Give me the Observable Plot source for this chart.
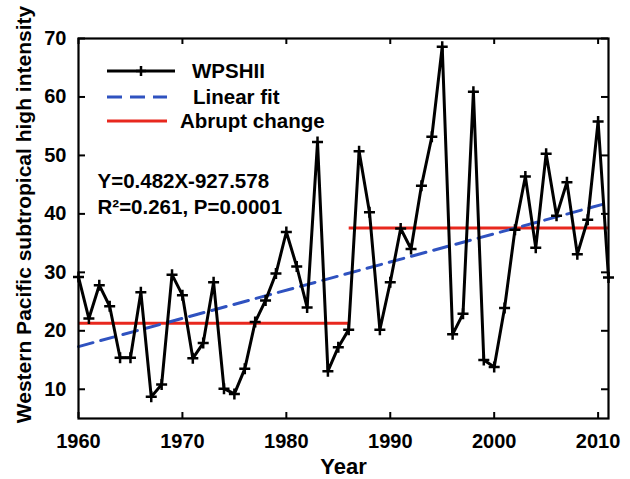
<!DOCTYPE html>
<html>
<head>
<meta charset="utf-8">
<script src="https://cdn.jsdelivr.net/npm/d3@7"></script>
<script src="https://cdn.jsdelivr.net/npm/@observablehq/plot@0.6"></script>
<style>
  html, body { margin: 0; padding: 0; background: #fff; }
</style>
</head>
<body>
<div id="chart"></div>
<script>
// ---- data ----
const years = [1960,1961,1962,1963,1964,1965,1966,1967,1968,1969,
               1970,1971,1972,1973,1974,1975,1976,1977,1978,1979,
               1980,1981,1982,1983,1984,1985,1986,1987,1988,1989,
               1990,1991,1992,1993,1994,1995,1996,1997,1998,1999,
               2000,2001,2002,2003,2004,2005,2006,2007,2008,2009,
               2010,2011];
const wpshii = [29.2,22.1,27.8,24.2,15.4,15.4,26.6,8.7,10.8,29.6,
                26.1,15.3,17.9,28.3,10.1,9.2,13.5,21.5,25.2,29.8,
                36.9,31.0,24.0,52.3,13.1,17.2,20.2,50.7,40.3,20.2,
                28.3,37.5,34.0,44.8,53.2,68.6,19.4,22.9,60.9,15.0,
                13.8,23.9,37.3,46.4,34.2,50.3,39.7,45.4,33.1,39.0,
                55.8,29.1];
const fitYears = [1960, 2011];
const fitValues = [17.3, 41.9];
const changeStarts = [1960, 1986];
const changeEnds = [1986, 2011];
const changeLevels = [21.3, 37.6];
const xTicks = [1960, 1970, 1980, 1990, 2000, 2010];
const yTicks = [10, 20, 30, 40, 50, 60, 70];
const legendLabels = ["WPSHII", "Linear fit", "Abrupt change"];
const equationLine1 = "Y=0.482X-927.578";
const equationLine2 = "R\u00B2=0.261, P=0.0001";
const xLabel = "Year";
const yLabel = "Western Pacific subtropical high intensity";

// ---- derived tables ----
const series = years.map((y, i) => ({year: y, value: wpshii[i]}));
const fit = fitYears.map((y, i) => ({year: y, value: fitValues[i]}));
const changes = changeStarts.map((s, i) => ({x1: s, x2: changeEnds[i], y: changeLevels[i]}));

const BLUE = "#2f52c0";
const RED = "#e8281e";
const FONT = "'Liberation Sans', Arial, Helvetica, sans-serif";

const plusSymbol = {
  draw(context, size) {
    const r = Math.sqrt(size / Math.PI);
    context.moveTo(-r, 0); context.lineTo(r, 0);
    context.moveTo(0, -r); context.lineTo(0, r);
  }
};

const W = 630, H = 479;
const mL = 78, mR = 22, mT = 38, mB = 61;
const innerW = W - mL - mR, innerH = H - mT - mB;

function legendMark(index, scales, values, dimensions) {
  const g = d3.create("svg:g")
    .attr("font-family", FONT).attr("font-weight", "bold").attr("font-size", 20.5)
    .attr("text-anchor", "start");
  const rows = [
    {y: 71, x1: 107, x2: 175, tx: 192, color: "black", dash: null, marker: true},
    {y: 97, x1: 107, x2: 167, tx: 193, color: BLUE, dash: "15,8", marker: false},
    {y: 121, x1: 107, x2: 167, tx: 180, color: RED, dash: null, marker: false}
  ];
  rows.forEach((r, i) => {
    g.append("line").attr("x1", r.x1).attr("x2", r.x2).attr("y1", r.y).attr("y2", r.y)
      .attr("stroke", r.color).attr("stroke-width", 3).attr("stroke-dasharray", r.dash);
    if (r.marker) {
      const cx = (r.x1 + r.x2) / 2;
      g.append("path").attr("d", `M${cx-5},${r.y}H${cx+5}M${cx},${r.y-5}V${r.y+5}`)
        .attr("stroke", "black").attr("stroke-width", 2.5);
    }
    g.append("text").attr("x", r.tx).attr("y", r.y + 7).attr("fill", "black")
      .attr("text-anchor", "start").text(legendLabels[i]);
  });
  return g.node();
}

const chart = Plot.plot({
  width: W,
  height: H,
  marginLeft: mL,
  marginRight: mR,
  marginTop: mT,
  marginBottom: mB,
  style: {fontFamily: FONT, background: "#fff", color: "black"},
  x: {domain: [1960, 2011], label: null},
  y: {domain: [5, 70], label: null},
  marks: [
    // abrupt change
    Plot.link(changes, {x1: "x1", x2: "x2", y1: "y", y2: "y", stroke: RED, strokeWidth: 3}),
    // linear fit
    Plot.line(fit, {x: "year", y: "value", stroke: BLUE, strokeWidth: 3, strokeDasharray: "15,8"}),
    // series
    Plot.line(series, {x: "year", y: "value", stroke: "black", strokeWidth: 3}),
    Plot.dot(series, {x: "year", y: "value", symbol: plusSymbol, r: 5.5, stroke: "black", strokeWidth: 2.5, fill: "none"}),
    // inward ticks
    Plot.ruleX(xTicks, {x: d => d, insetTop: innerH - 6, stroke: "black", strokeWidth: 2}),
    Plot.ruleX(xTicks, {x: d => d, insetBottom: innerH - 6, stroke: "black", strokeWidth: 2}),
    Plot.ruleY(yTicks, {y: d => d, insetRight: innerW - 7, stroke: "black", strokeWidth: 2}),
    Plot.ruleY(yTicks, {y: d => d, insetLeft: innerW - 7, stroke: "black", strokeWidth: 2}),
    // tick labels
    Plot.axisX(xTicks, {tickSize: 0, tickPadding: 15, fontSize: 20, fontWeight: "bold", tickFormat: d => String(d), label: null}),
    Plot.axisY(yTicks, {tickSize: 0, tickPadding: 12, fontSize: 20, fontWeight: "bold", tickFormat: d => String(d), label: null}),
    Plot.frame({stroke: "black", strokeWidth: 2.2}),
    // axis titles
    Plot.text([xLabel], {frameAnchor: "bottom", dy: 48, fontSize: 22, fontWeight: "bold", textAnchor: "middle", lineAnchor: "middle", fill: "black"}),
    Plot.text([yLabel], {frameAnchor: "left", rotate: -90, dx: -54, dy: -14, fontSize: 21, fontWeight: "bold", textAnchor: "middle", lineAnchor: "middle", fill: "black"}),
    // equation annotation
    Plot.text([equationLine1], {frameAnchor: "top-left", textAnchor: "start", lineAnchor: "middle",
      dx: 19, dy: 142.5, fontSize: 20.5, fontWeight: "bold", fill: "black"}),
    Plot.text([equationLine2], {frameAnchor: "top-left", textAnchor: "start", lineAnchor: "middle",
      dx: 19, dy: 168.5, fontSize: 20.5, fontWeight: "bold", fill: "black"}),
    legendMark
  ]
});
document.getElementById("chart").appendChild(chart);
</script>
</body>
</html>
